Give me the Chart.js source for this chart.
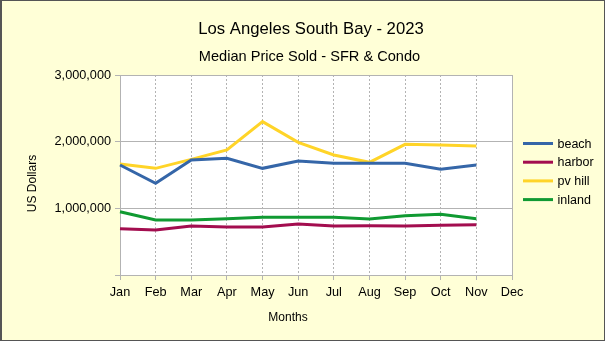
<!DOCTYPE html>
<html>
<head>
<meta charset="utf-8">
<script src="https://cdn.jsdelivr.net/npm/chart.js@4.4.1/dist/chart.umd.min.js"></script>
<style>
  html, body { margin: 0; padding: 0; background: #ffffd7; }
  canvas { display: block; }
</style>
</head>
<body>
<canvas id="myChart" width="605" height="341"></canvas>
<script>
// Chart data
const months = ['Jan', 'Feb', 'Mar', 'Apr', 'May', 'Jun', 'Jul', 'Aug', 'Sep', 'Oct', 'Nov', 'Dec'];
const beach  = [1650000, 1375000, 1725000, 1750000, 1600000, 1710000, 1675000, 1675000, 1675000, 1585000, 1650000];
const harbor = [695000, 675000, 735000, 720000, 720000, 765000, 735000, 740000, 735000, 745000, 755000];
const pvHill = [1665000, 1600000, 1735000, 1875000, 2300000, 1990000, 1800000, 1690000, 1960000, 1950000, 1935000];
const inland = [950000, 825000, 825000, 845000, 865000, 865000, 865000, 840000, 890000, 910000, 845000];
const yTicks = [0, 1000000, 2000000, 3000000];

const FONT = "'Liberation Sans', Arial, sans-serif";
const GRID = '#b3b3b3';

// Background, plot frame, titles and legend
const decorations = {
  id: 'decorations',
  beforeDraw(chart) {
    const { ctx, chartArea: a, width, height } = chart;
    ctx.save();
    ctx.fillStyle = '#ffffd7';
    ctx.fillRect(0, 0, width, height);
    ctx.fillStyle = '#ffffff';
    ctx.fillRect(a.left, a.top, a.right - a.left, a.bottom - a.top);
    ctx.restore();
  },
  beforeDatasetsDraw(chart) {
    const { ctx, chartArea: a } = chart;
    ctx.save();
    ctx.strokeStyle = GRID;
    ctx.lineWidth = 1;
    ctx.strokeRect(Math.round(a.left) + 0.5, Math.round(a.top) + 0.5,
      Math.round(a.right - a.left), Math.round(a.bottom - a.top));
    ctx.restore();
  },
  afterDraw(chart) {
    const { ctx, width, height } = chart;
    ctx.save();
    ctx.fillStyle = '#000';
    ctx.textAlign = 'center';
    ctx.textBaseline = 'alphabetic';

    ctx.font = '16.7px ' + FONT;
    ctx.fillText('Los Angeles South Bay - 2023', 311, 33.5);
    ctx.font = '14.6px ' + FONT;
    ctx.fillText('Median Price Sold - SFR & Condo', 309.5, 61);

    ctx.font = '12px ' + FONT;
    ctx.fillText('Months', 288, 321);
    ctx.save();
    ctx.translate(35.5, 183.5);
    ctx.rotate(-Math.PI / 2);
    ctx.fillText('US Dollars', 0, 0);
    ctx.restore();

    // legend
    ctx.font = '12.5px ' + FONT;
    ctx.textAlign = 'left';
    chart.data.datasets.forEach((ds, i) => {
      const y = 143.5 + i * 18.7;
      ctx.strokeStyle = ds.borderColor;
      ctx.lineWidth = 3;
      ctx.beginPath();
      ctx.moveTo(523, y);
      ctx.lineTo(553, y);
      ctx.stroke();
      ctx.fillText(ds.label, 557.5, y + 4);
    });

    // outer frame
    ctx.strokeStyle = '#555';
    ctx.lineWidth = 1;
    ctx.strokeRect(0.5, 0.5, width - 1, height - 1);
    ctx.beginPath();
    ctx.moveTo(1.5, 0);
    ctx.lineTo(1.5, height);
    ctx.stroke();
    ctx.restore();
  }
};

Chart.defaults.font.family = FONT;
Chart.defaults.color = '#000';

const ctx = document.getElementById('myChart').getContext('2d');
const myChart = new Chart(ctx, {
  type: 'line',
  data: {
    labels: months,
    datasets: [
      { label: 'beach', data: beach, borderColor: '#3566a8' },
      { label: 'harbor', data: harbor, borderColor: '#a30d4f' },
      { label: 'pv hill', data: pvHill, borderColor: '#ffd428' },
      { label: 'inland', data: inland, borderColor: '#109a32' }
    ]
  },
  options: {
    responsive: false,
    animation: false,
    devicePixelRatio: 1,
    events: [],
    layout: { padding: { top: 75, left: 0, right: 93, bottom: 0 } },
    elements: {
      line: { borderWidth: 3, tension: 0, fill: false },
      point: { radius: 0 }
    },
    scales: {
      x: {
        offset: false,
        grid: { color: GRID, tickLength: 5, tickColor: GRID, tickBorderDash: [] },
        border: { color: GRID, dash: [2, 2] },
        ticks: { font: { size: 12.7 }, padding: 5, maxRotation: 0, autoSkip: false },
        afterFit(scale) { scale.height = 66; }
      },
      y: {
        min: 0,
        max: 3000000,
        afterBuildTicks(scale) { scale.ticks = yTicks.map(v => ({ value: v })); },
        grid: { color: GRID, tickLength: 5, tickColor: GRID },
        border: { color: GRID },
        ticks: {
          font: { size: 12.7 },
          padding: 4,
          callback: v => v === 0 ? '' : v.toLocaleString('en-US')
        },
        afterFit(scale) { scale.width = 120; }
      }
    },
    plugins: {
      legend: { display: false },
      title: { display: false },
      tooltip: { enabled: false }
    }
  },
  plugins: [decorations]
});
</script>
</body>
</html>
